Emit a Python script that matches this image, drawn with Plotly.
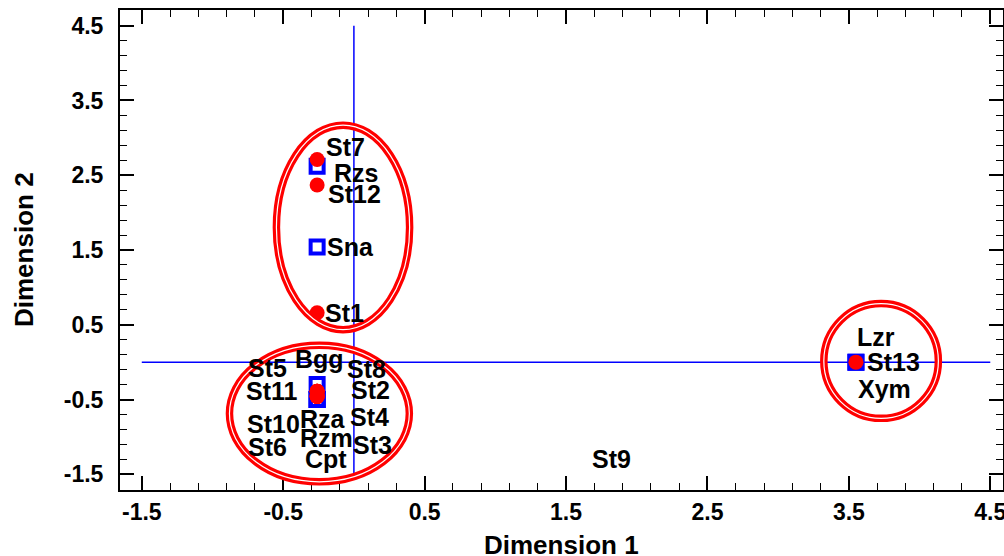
import plotly.graph_objects as go

# ---- data ----
species_names = ["Rzs", "Sna", "Bgg", "Rza", "Rzm", "Cpt", "Lzr", "Xym"]
species_x = [-0.26, -0.26, -0.26, -0.26, -0.26, -0.26, 3.55, 3.55]
species_y = [2.62, 1.54, -0.30, -0.50, -0.50, -0.50, 0.0, 0.0]

station_names = ["St7", "St12", "St1", "St5", "St11", "St8", "St2",
                 "St10", "St6", "St4", "St3", "St13"]
station_x = [-0.26, -0.26, -0.26, -0.26, -0.26, -0.26, -0.26,
             -0.26, -0.26, -0.26, -0.26, 3.55]
station_y = [2.71, 2.37, 0.66, -0.39, -0.39, -0.39, -0.39,
             -0.46, -0.46, -0.46, -0.46, 0.0]

# label-only point
free_names = ["St9"]
free_x = [1.82]
free_y = [-1.29]

# group ellipses (data units): x0, x1, y0, y1
group_x0 = [-0.548, -0.88, 3.323]
group_x1 = [0.394, 0.392, 4.133]
group_y0 = [0.435, -1.60, -0.752]
group_y1 = [3.17, 0.225, 0.783]

tick_vals = [-1.5, -0.5, 0.5, 1.5, 2.5, 3.5, 4.5]
tick_text = ["-1.5", "-0.5", "0.5", "1.5", "2.5", "3.5", "4.5"]

x_title = "Dimension 1"
y_title = "Dimension 2"

# ---- label offsets (pixels, screen: +dx right, +dy down) ----
label_offsets = {
    "St7": (28, -13), "Rzs": (39, 7), "St12": (37, 9), "Sna": (33, 0), "St1": (27, 0),
    "Bgg": (2, -26), "Rza": (6, 19), "Rzm": (9, 38), "Cpt": (9, 59),
    "St5": (-50, -23), "St8": (49, -22), "St11": (-45, 0), "St2": (53, -1),
    "St10": (-44, 27), "St6": (-50, 50), "St4": (52, 20), "St3": (55, 48),
    "St13": (38, 0), "Lzr": (20, -25), "Xym": (29, 27), "St9": (0, 0),
}

FONT = "Liberation Sans, Arial, sans-serif"
BLUE = "#0000ff"
RED = "#ff0000"

fig = go.Figure()

fig.add_trace(go.Scatter(
    x=species_x, y=species_y, mode="markers",
    marker=dict(symbol="square-open", size=13, color=BLUE, line=dict(width=4, color=BLUE)),
    hoverinfo="text", text=species_names, showlegend=False))
fig.add_trace(go.Scatter(
    x=station_x, y=station_y, mode="markers",
    marker=dict(symbol="circle", size=15, color=RED, line=dict(width=0)),
    hoverinfo="text", text=station_names, showlegend=False))

shapes = []
# crosshair lines
shapes.append(dict(type="line", xref="x", yref="y", x0=tick_vals[0], x1=tick_vals[-1], y0=0, y1=0,
                   line=dict(color=BLUE, width=1.5), layer="below"))
shapes.append(dict(type="line", xref="x", yref="y", x0=0, x1=0, y0=tick_vals[0], y1=tick_vals[-1],
                   line=dict(color=BLUE, width=1.5), layer="below"))
# double-line ellipses
for x0, x1, y0, y1 in zip(group_x0, group_x1, group_y0, group_y1):
    shapes.append(dict(type="circle", xref="x", yref="y", x0=x0, x1=x1, y0=y0, y1=y1,
                       line=dict(color=RED, width=7.5), layer="above"))
    shapes.append(dict(type="circle", xref="x", yref="y", x0=x0, x1=x1, y0=y0, y1=y1,
                       line=dict(color="white", width=1.2), layer="above"))

annotations = []
for names, xs, ys in [(species_names, species_x, species_y),
                      (station_names, station_x, station_y),
                      (free_names, free_x, free_y)]:
    for n, x, y in zip(names, xs, ys):
        dx, dy = label_offsets[n]
        annotations.append(dict(x=x, y=y, xref="x", yref="y", text=n, showarrow=False,
                                xshift=dx, yshift=-dy, xanchor="center", yanchor="middle",
                                font=dict(family=FONT, size=25, color="black", weight="bold")))

title_font = dict(family=FONT, size=26, color="black", weight="bold")
annotations.append(dict(text=x_title, xref="paper", yref="paper", x=0.5, y=0, yshift=-55,
                        xanchor="center", yanchor="middle", showarrow=False, font=title_font))
annotations.append(dict(text=y_title, xref="paper", yref="paper", x=0, y=0.5, xshift=-96,
                        xanchor="center", yanchor="middle", textangle=-90, showarrow=False,
                        font=title_font))

axis_common = dict(
    showgrid=False, zeroline=False, showline=True, linecolor="black", linewidth=2,
    mirror="ticks", ticks="inside", ticklen=14, tickwidth=1.5, tickcolor="black",
    tickvals=tick_vals, ticktext=tick_text, ticklabeloverflow="allow", automargin=False,
    tickfont=dict(family=FONT, size=23, color="black", weight="bold"),
    minor=dict(ticks="inside", ticklen=7, tickwidth=1.2, tickcolor="black", tick0=-1.5, dtick=0.2),
)

fig.update_layout(
    width=1004, height=556,
    margin=dict(l=120, r=1, t=10, b=66, autoexpand=False),
    paper_bgcolor="white", plot_bgcolor="white",
    shapes=shapes, annotations=annotations,
    xaxis=dict(range=[-1.654, 4.59], ticklabelstandoff=0, **axis_common),
    yaxis=dict(range=[-1.71, 4.71], ticklabelstandoff=10, **axis_common),
)

fig.write_html("out.html", config={"displayModeBar": False},
               post_script="document.body.style.margin='0';document.body.style.overflow='hidden';")
